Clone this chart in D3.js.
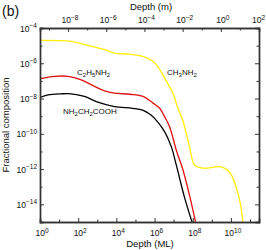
<!DOCTYPE html>
<html>
<head>
<meta charset="utf-8">
<script src="https://cdn.jsdelivr.net/npm/d3@7"></script>
<style>
  body { margin: 0; background: #fff; }
  svg { display: block; font-family: "Liberation Sans", Arial, sans-serif; }
</style>
</head>
<body>
<svg id="chart"></svg>
<script>
var W = 266, H = 250;
var margin = {top: 28, right: 7, bottom: 28, left: 40};

// depth in monolayers (ML) and fractional composition
var ch3nh2Depth = [1, 4.2e1, 3.2e2, 2.4e3, 7.9e3, 5e4, 2.4e5, 8.3e5, 1.9e6, 4.2e6, 9.1e6, 1.66e7, 3e7, 6.8e7, 1.23e8, 3.4e8, 3.1e9, 9.1e9, 2.75e10, 4.2e10];
var ch3nh2Frac  = [2e-5, 1.74e-5, 1.05e-5, 5.9e-6, 3.8e-6, 3.3e-6, 2.45e-6, 1.29e-6, 4.3e-7, 9.3e-8, 2.04e-8, 2.8e-9, 5.9e-10, 1.8e-11, 1.74e-12, 1.12e-12, 1.32e-12, 6e-13, 2.1e-14, 9.5e-16];

var c2h5nh2Depth = [1, 5.9, 2.9e1, 1.45e2, 7.2e2, 2.4e3, 7.9e3, 5e4, 2.45e5, 8.3e5, 1.86e6, 3.4e6, 6.2e6, 1.38e7, 3e7, 6.8e7, 1.41e8];
var c2h5nh2Frac  = [1.32e-7, 1.82e-7, 1.82e-7, 1.15e-7, 4.9e-8, 2.75e-8, 2.04e-8, 1.75e-8, 1.32e-8, 5.5e-9, 2.8e-9, 9.1e-10, 2.45e-10, 1.17e-11, 9.8e-13, 3.2e-14, 9.5e-16];

var glycineDepth = [1, 2.6, 1.29e1, 4.3e1, 2.1e2, 1.07e3, 7.9e3, 7.2e4, 2.4e5, 6.5e5, 1.45e6, 3.4e6, 7.6e6, 1.38e7, 3.7e7, 9.3e7];
var glycineFrac  = [1.15e-8, 1.62e-8, 1.86e-8, 1.86e-8, 1.32e-8, 6.3e-9, 3.5e-9, 2.8e-9, 2.2e-9, 1.15e-9, 4.8e-10, 1.29e-10, 1.82e-11, 1.66e-12, 2.5e-14, 9.5e-16];

var seriesNames  = ["CH\u2083NH\u2082", "C\u2082H\u2085NH\u2082", "NH\u2082CH\u2082COOH"];
var seriesColors = ["#ffee00", "#e01010", "#000000"];

var xMajor = [1e0, 1e2, 1e4, 1e6, 1e8, 1e10];
var xMinor = [1e1, 1e3, 1e5, 1e7, 1e9, 1e11];
var topMajor = [1e-8, 1e-6, 1e-4, 1e-2, 1e0, 1e2];
var topMinor = [1e-9, 1e-7, 1e-5, 1e-3, 1e-1, 1e1];
var yMajor = [1e-4, 1e-6, 1e-8, 1e-10, 1e-12, 1e-14];
var yMinor = [1e-5, 1e-7, 1e-9, 1e-11, 1e-13, 1e-15];

var mlMax = 2.95e11;      // right edge of plot, in ML
var metresPerML = 3.39e-10;

var svg = d3.select("#chart").attr("width", W).attr("height", H);

var x = d3.scaleLog().domain([1, mlMax]).range([margin.left, W - margin.right]);
var xTop = d3.scaleLog().domain([metresPerML, mlMax * metresPerML]).range([margin.left, W - margin.right]);
var y = d3.scaleLog().domain([1e-15, 1e-4]).range([H - margin.bottom, margin.top]);

svg.append("clipPath").attr("id", "clip")
  .append("rect")
  .attr("x", margin.left).attr("y", margin.top)
  .attr("width", W - margin.left - margin.right)
  .attr("height", H - margin.top - margin.bottom);

// curves
var series = [
  {name: seriesNames[0], color: seriesColors[0], depth: ch3nh2Depth, frac: ch3nh2Frac},
  {name: seriesNames[1], color: seriesColors[1], depth: c2h5nh2Depth, frac: c2h5nh2Frac},
  {name: seriesNames[2], color: seriesColors[2], depth: glycineDepth, frac: glycineFrac}
];

var line = d3.line()
  .x(function(d) { return x(d[0]); })
  .y(function(d) { return y(d[1]); })
  .curve(d3.curveCatmullRom.alpha(0.5));

svg.append("g").attr("clip-path", "url(#clip)")
  .selectAll("path")
  .data(series)
  .enter()
  .append("path")
  .attr("d", function(s) { return line(d3.zip(s.depth, s.frac)); })
  .attr("fill", "none")
  .attr("stroke", function(s) { return s.color; })
  .attr("stroke-width", 1.3);

// superscript tick label helper
function powLabel(sel, v) {
  var e = Math.round(Math.log10(v));
  sel.text("");
  sel.append("tspan").text("10");
  sel.append("tspan")
    .attr("dy", -3.5)
    .attr("font-size", "6.5px")
    .text(e < 0 ? "\u2212" + (-e) : e);
}

var axisColor = "#333";

function drawAxis(gen, scale, major, minor, tx, ty, bigLen, smallLen) {
  var gMaj = svg.append("g")
    .attr("transform", "translate(" + tx + "," + ty + ")")
    .call(gen(scale).tickValues(major).tickSize(bigLen).tickFormat(""));
  var gMin = svg.append("g")
    .attr("transform", "translate(" + tx + "," + ty + ")")
    .call(gen(scale).tickValues(minor).tickSize(smallLen).tickFormat(""));
  [gMaj, gMin].forEach(function(g) {
    g.select(".domain").attr("stroke", axisColor).attr("stroke-width", 1.4);
    g.selectAll(".tick line").attr("stroke", axisColor).attr("stroke-width", 1);
  });
  return gMaj;
}

// inward ticks: negative tick sizes
drawAxis(d3.axisBottom, x, xMajor, xMinor, 0, H - margin.bottom, -4, -2.5);
drawAxis(d3.axisTop, xTop, topMajor, topMinor, 0, margin.top, -4, -2.5);
drawAxis(d3.axisLeft, y, yMajor, yMinor, margin.left, 0, -4, -2.5);
drawAxis(d3.axisRight, y, yMajor, yMinor, W - margin.right, 0, -4, -2.5);

// tick labels
svg.append("g").selectAll("text")
  .data(xMajor).enter().append("text")
  .attr("x", function(d) { return x(d) + 2; })
  .attr("y", H - margin.bottom + 14)
  .attr("text-anchor", "middle")
  .attr("font-size", "8.5px")
  .attr("fill", "#111")
  .each(function(d) { powLabel(d3.select(this), d); });

svg.append("g").selectAll("text")
  .data(topMajor).enter().append("text")
  .attr("x", function(d) { return Math.min(xTop(d) + 2, W - 7.5); })
  .attr("y", margin.top - 5)
  .attr("text-anchor", "middle")
  .attr("font-size", "8.5px")
  .attr("fill", "#111")
  .each(function(d) { powLabel(d3.select(this), d); });

svg.append("g").selectAll("text")
  .data(yMajor).enter().append("text")
  .attr("x", margin.left - 3)
  .attr("y", function(d) { return y(d) + 3.5; })
  .attr("text-anchor", "end")
  .attr("font-size", "8.5px")
  .attr("fill", "#111")
  .each(function(d) { powLabel(d3.select(this), d); });

// axis titles
svg.append("text")
  .attr("x", 150).attr("y", 247)
  .attr("text-anchor", "middle")
  .attr("font-size", "9.5px")
  .attr("fill", "#111")
  .text("Depth (ML)");

svg.append("text")
  .attr("x", 151).attr("y", 10)
  .attr("text-anchor", "middle")
  .attr("font-size", "9.5px")
  .attr("fill", "#111")
  .text("Depth (m)");

svg.append("text")
  .attr("transform", "translate(9," + (margin.top + (H - margin.top - margin.bottom) / 2) + ") rotate(-90)")
  .attr("text-anchor", "middle")
  .attr("font-size", "9.5px")
  .attr("fill", "#111")
  .text("Fractional composition");

svg.append("text")
  .attr("x", 2).attr("y", 16)
  .attr("font-size", "14px")
  .attr("fill", "#111")
  .text("(b)");

// series labels with subscripts
var labels = [
  {parts: [["CH", 0], ["3", 1], ["NH", 0], ["2", 1]], x: 167, y: 75},
  {parts: [["C", 0], ["2", 1], ["H", 0], ["5", 1], ["NH", 0], ["2", 1]], x: 77, y: 75},
  {parts: [["NH", 0], ["2", 1], ["CH", 0], ["2", 1], ["COOH", 0]], x: 63, y: 114}
];

labels.forEach(function(l) {
  var t = svg.append("text")
    .attr("x", l.x).attr("y", l.y)
    .attr("font-size", "8px")
    .attr("fill", "#111");
  var sub = false;
  l.parts.forEach(function(p) {
    var ts = t.append("tspan").text(p[0]);
    if (p[1]) ts.attr("font-size", "6px");
    if (p[1] && !sub) { ts.attr("dy", 2); sub = true; }
    else if (!p[1] && sub) { ts.attr("dy", -2); sub = false; }
  });
});
</script>
</body>
</html>
